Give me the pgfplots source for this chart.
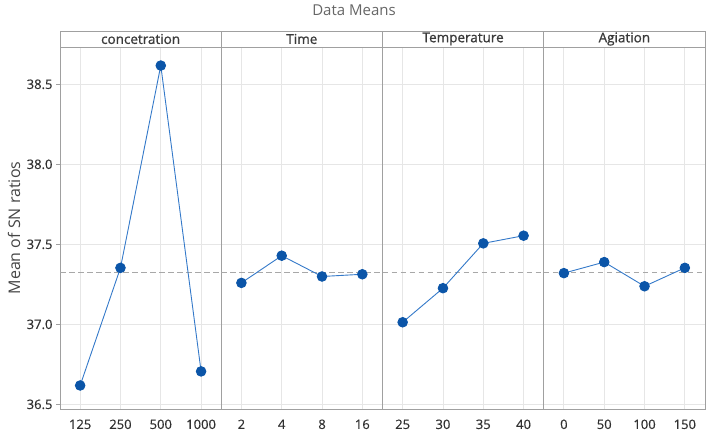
\documentclass[border=0pt]{standalone}
\usepackage{fontspec}
\setmainfont{Open Sans}
\newfontfamily\semib{Open Sans}[FakeBold=0.9]
\newfontfamily\tickf{Open Sans}[FakeBold=0.4]
\usepackage{pgfplots}
\pgfplotsset{compat=1.18}
\definecolor{mkblue}{HTML}{0B55A8}
\definecolor{lnblue}{HTML}{3479C9}
\definecolor{frame}{HTML}{A0A0A0}
\definecolor{gridc}{HTML}{E6E6E6}
\definecolor{txt}{HTML}{303030}
\definecolor{meanc}{HTML}{A8A8A8}
\pgfplotsset{
  panel/.style={
    anchor=south west, scale only axis,
    width=161.25pt, height=362pt,
    xmin=-0.5, xmax=3.5, ymin=36.471, ymax=38.733,
    xtick={0,1,2,3},
    ytick={36.5,37,37.5,38,38.5},
    grid=major,
    major grid style={draw=gridc, line width=0.9pt},
    axis line style={draw=frame, line width=0.9pt},
    tick align=outside,
    major tick length=4pt,
    xtick style={draw=none},
    ytick style={draw=frame, line width=0.8pt},
    ticklabel style={font=\tickf\fontsize{13}{15}\selectfont, text=txt},
    /pgf/number format/assume math mode=true,
    /pgf/number format/fixed, /pgf/number format/fixed zerofill,
    /pgf/number format/precision=1,
    xticklabel style={yshift=-3pt},
    clip=false,
  },
  noy/.style={yticklabels={}, ytick style={draw=none}},
}
\newcommand{\meanline}{\addplot[meanc, line width=0.9pt, dash pattern=on 5.5pt off 3.5pt] coordinates {(-0.5,37.3245) (3.5,37.3245)};}
\newcommand{\series}[1]{\addplot[lnblue, line width=0.9pt, mark=*, mark size=4.8pt, mark options={fill=mkblue, draw=mkblue, solid}] coordinates {#1};}
\newcommand{\header}[2]{%
  \draw[frame, line width=0.9pt, fill=white] (#1.north west) rectangle ([yshift=16pt]#1.north east);
  \node[text=txt!95, font=\semib\fontsize{13.5}{15}\selectfont, anchor=center] at ([yshift=8pt]#1.north) {#2};}
\begin{document}
\begin{tikzpicture}
\path[use as bounding box] (-60pt,-23pt) rectangle (648pt,409pt);
\begin{axis}[panel, at={(0pt,0pt)}, name=a1, xticklabels={125,250,500,1000}]
\meanline
\series{(0,36.618) (1,37.353) (2,38.617) (3,36.706)}
\end{axis}
\begin{axis}[panel, noy, at={(161.25pt,0pt)}, name=a2, xticklabels={2,4,8,16}]
\meanline
\series{(0,37.259) (1,37.429) (2,37.299) (3,37.313)}
\end{axis}
\begin{axis}[panel, noy, at={(322.5pt,0pt)}, name=a3, xticklabels={25,30,35,40}]
\meanline
\series{(0,37.013) (1,37.226) (2,37.506) (3,37.554)}
\end{axis}
\begin{axis}[panel, noy, at={(483.75pt,0pt)}, name=a4, xticklabels={0,50,100,150}]
\meanline
\series{(0,37.320) (1,37.389) (2,37.238) (3,37.353)}
\end{axis}
\header{a1}{concetration}
\header{a2}{Time}
\header{a3}{Temperature}
\header{a4}{Agiation}
\node[text=black!60, font=\fontsize{15}{17}\selectfont] at (294pt,399pt) {Data Means};
\node[text=txt!90, rotate=90, font=\fontsize{16}{18}\selectfont] at (-46pt,181pt) {Mean of SN ratios};
\end{tikzpicture}
\end{document}
